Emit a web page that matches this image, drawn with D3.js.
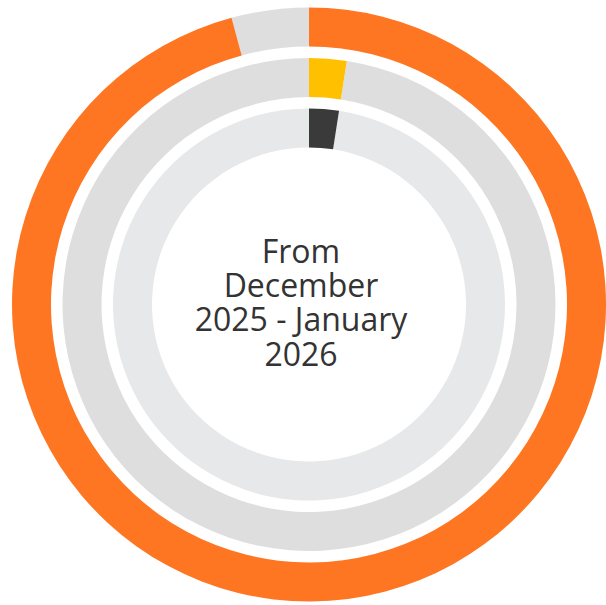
<!DOCTYPE html>
<html>
<head>
<meta charset="utf-8">
<script src="https://cdn.jsdelivr.net/npm/d3@7"></script>
<style>
	html, body { margin: 0; padding: 0; background: #fff; overflow: hidden; }
	svg { display: block; }
</style>
</head>
<body>
<svg></svg>
<script>
'use strict'

// share of each ring (percent), outer to inner
let rings = ['outer', 'middle', 'inner']
let values = [95.8, 2.45, 2.45]
let titleLines = ['From', 'December', '2025 - January', '2026']

let fills = ['#fe7622', '#ffc000', '#3a3a3a']
let tracks = ['#dedede', '#dedede', '#e7e8e9']

let width = 606,
	height = 605,
	cx = 309,
	cy = 304.5

let svg = d3.select('svg')
	.attr('width', width)
	.attr('height', height)

let g = svg.append('g')
	.attr('transform', 'translate(' + cx + ',' + cy + ')')

// ring radius by index
let radius = d3.scaleLinear()
	.domain([0, rings.length - 1])
	.range([297, 196])

let thickness = 39

let angle = d3.scaleLinear()
	.domain([0, 100])
	.range([0, 2 * Math.PI])

let arc = d3.arc()
	.outerRadius(function(d) { return radius(d.i) })
	.innerRadius(function(d) { return radius(d.i) - thickness })

let data = rings.map(function(r, i) {
	return { name: r, value: values[i], i: i }
})

// grey track (remaining share)
g.selectAll('path.track')
	.data(data)
	.enter().append('path')
	.attr('class', 'track')
	.attr('fill', function(d) { return tracks[d.i] })
	.attr('d', function(d) {
		return arc({ i: d.i, startAngle: angle(d.value), endAngle: angle(100) })
	})

// coloured value
g.selectAll('path.value')
	.data(data)
	.enter().append('path')
	.attr('class', 'value')
	.attr('fill', function(d) { return fills[d.i] })
	.attr('d', function(d) {
		return arc({ i: d.i, startAngle: 0, endAngle: angle(d.value) })
	})

let text = svg.append('text')
	.attr('text-anchor', 'middle')
	.style('font-family', '"Open Sans", sans-serif')
	.style('font-size', '32px')
	.attr('fill', '#333333')

text.selectAll('tspan')
	.data(titleLines)
	.enter().append('tspan')
	.attr('x', 301)
	.attr('y', function(d, i) { return 263 + i * 34.2 })
	.text(function(d) { return d })
</script>
</body>
</html>
